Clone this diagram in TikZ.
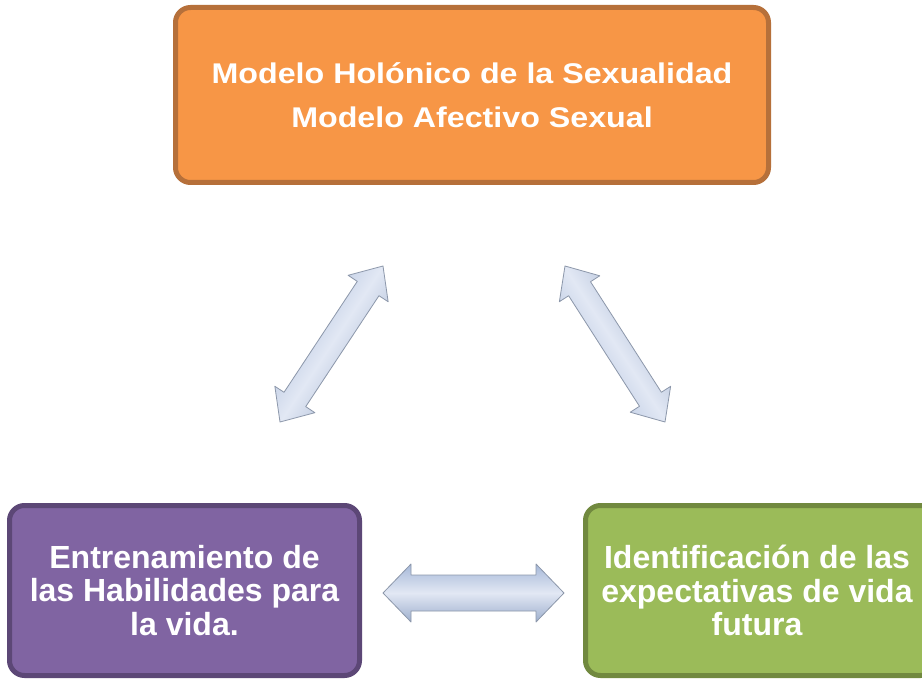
\documentclass[tikz,border=0pt]{standalone}
\usepackage{fontspec}
\setmainfont{Liberation Sans}
\usepackage{graphicx}
\usetikzlibrary{calc}
\definecolor{orfill}{HTML}{F79646}
\definecolor{ordraw}{HTML}{B6703A}
\definecolor{pufill}{HTML}{8064A2}
\definecolor{pudraw}{HTML}{5C4776}
\definecolor{grfill}{HTML}{9BBB59}
\definecolor{grdraw}{HTML}{71893F}
\definecolor{arrline}{HTML}{8C97AA}
\definecolor{arrdark}{HTML}{A6B8D8}
\definecolor{arrlight}{HTML}{E2E8F4}
\tikzset{
  box/.style={rectangle, rounded corners=15pt, line width=5pt, inner sep=0pt,
    text=white, align=center},
  topfont/.style={font={\fontsize{28.5}{44}\selectfont\bfseries}},
  lowfont/.style={font={\fontsize{32}{33.5}\selectfont\bfseries}},
  arrowfill/.style={draw=arrline, line width=0.8pt, line join=round,
    top color=arrdark, bottom color=arrdark!95!black, middle color=arrlight},
}
% #1 start, #2 end, #3 shaft half width, #4 head half width, #5 head length, #6 shading angle
\newcommand{\dblarrowdraw}[6]{%
  \path[arrowfill, shading angle=#6]
    (#1)
    -- ($(#1)!#5!(#2)!#4!90:(#2)$)
    -- ($(#1)!#5!(#2)!#3!90:(#2)$)
    -- ($(#2)!#5!(#1)!#3!-90:(#1)$)
    -- ($(#2)!#5!(#1)!#4!-90:(#1)$)
    -- (#2)
    -- ($(#2)!#5!(#1)!#4!90:(#1)$)
    -- ($(#2)!#5!(#1)!#3!90:(#1)$)
    -- ($(#1)!#5!(#2)!#3!-90:(#2)$)
    -- ($(#1)!#5!(#2)!#4!-90:(#2)$)
    -- cycle;}
\begin{document}
\begin{tikzpicture}[x=1pt, y=-1pt]
  \path[use as bounding box, clip] (0,0) rectangle (922,679);
  \fill[white] (0,0) rectangle (922,679);

  \node[box, topfont, fill=orfill, draw=ordraw, minimum width=593pt, minimum height=175pt]
    (top) at (472,95)
    {\scalebox{1.13}[1]{Modelo Holónico de la Sexualidad}\\
     \scalebox{1.13}[1]{Modelo Afectivo Sexual}};

  \node[box, lowfont, fill=pufill, draw=pudraw, minimum width=350pt, minimum height=170pt]
    (left) at (184.5,590.5)
    {Entrenamiento de\\las Habilidades para\\la vida.};

  \node[box, lowfont, fill=grfill, draw=grdraw, minimum width=350pt, minimum height=170pt]
    (right) at (760.5,590.5)
    {\hspace*{-7pt}Identificación de las\\\hspace*{-7pt}expectativas de vida\\\hspace*{-7pt}futura};

  \coordinate (la) at (280,422);
  \coordinate (lb) at (383,266);
  \coordinate (ra) at (665,422);
  \coordinate (rb) at (565,266);
  \coordinate (ha) at (383,593);
  \coordinate (hb) at (564,593);

  \dblarrowdraw{la}{lb}{13pt}{24pt}{27pt}{56.6}
  \dblarrowdraw{ra}{rb}{13pt}{24pt}{27pt}{123.4}
  \dblarrowdraw{ha}{hb}{18pt}{29pt}{28pt}{0}
\end{tikzpicture}
\end{document}
